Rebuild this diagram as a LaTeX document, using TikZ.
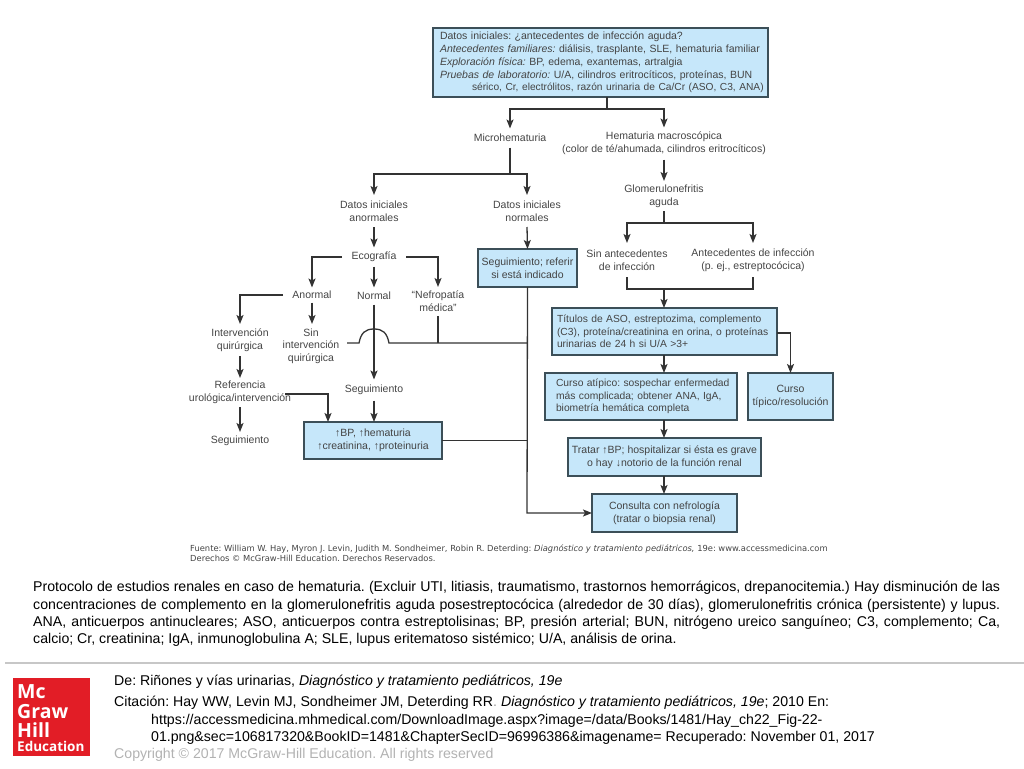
\documentclass[tikz,border=0pt]{standalone}
\usepackage{fontspec}
\setmainfont{Liberation Sans}
\newfontfamily\veriform{DejaVu Sans}
\newfontfamily\logofont{Open Sans}
\usetikzlibrary{arrows.meta,calc}
\AtBeginDocument{\frenchspacing}
\definecolor{boxfill}{HTML}{C6E7FA}
\definecolor{boxedge}{HTML}{3C4F58}
\definecolor{inkline}{HTML}{333333}
\definecolor{inktext}{HTML}{444444}
\definecolor{mhred}{HTML}{E21D26}
\tikzset{
  lbl/.style={inner sep=0pt,outer sep=0pt,align=center,text=inktext,font=\fontsize{10.5}{12.7}\selectfont},
  one/.style={lbl,minimum height=19pt},
  two/.style={lbl,minimum height=32pt},
  three/.style={lbl,minimum height=44pt},
  bx/.style={draw=boxedge,fill=boxfill,line width=1.3pt,inner ysep=0pt,inner xsep=0pt,outer sep=0pt,align=center,text=inktext,font=\fontsize{10.5}{12.7}\selectfont},
  ln/.style={draw=inkline,line width=1.3pt},
  arr/.style={ln,-{Stealth[length=9pt,width=7pt,inset=2pt]}},
  foot/.style={inner sep=0pt,anchor=west,text=black,font=\fontsize{14.15}{16}\selectfont},
  logo/.style={inner sep=0pt,anchor=west,text=white,font=\logofont\bfseries\fontsize{19.5}{22}\selectfont}
}
\begin{document}
\begin{tikzpicture}[x=1pt,y=-1pt]
\useasboundingbox (0,0) rectangle (1024,768);
% boxes
\node[bx,minimum height=69pt,text width=321pt,inner xsep=7pt,align=left] (top) at (600.5,62.5) {\mbox{Datos iniciales: ¿antecedentes de infección aguda?}\\
\mbox{\textit{Antecedentes familiares:} diálisis, trasplante, SLE, hematuria familiar}\\
\mbox{\textit{Exploración física:} BP, edema, exantemas, artralgia}\\
\mbox{\textit{Pruebas de laboratorio:} U/A, cilindros eritrocíticos, proteínas, BUN}\\
\mbox{\hspace*{32pt}\fontsize{10.2}{12.7}\selectfont sérico, Cr, electrólitos, razón urinaria de Ca/Cr (ASO, C3, ANA)}};
\node[bx,minimum width=99pt,minimum height=38pt] (seg) at (527.5,268) {Seguimiento; referir\\si está indicado};
\node[bx,minimum width=138pt,minimum height=37pt] (bp) at (373,440.5) {↑BP, ↑hematuria\\↑creatinina, ↑proteinuria};
\node[bx,minimum height=47pt,text width=215pt,inner xsep=5pt,align=left,font=\fontsize{10.3}{12.7}\selectfont] (tit) at (664.5,331.5) {\mbox{Títulos de ASO, estreptozima, complemento}\\\mbox{(C3), proteína/creatinina en orina, o proteínas}\\\mbox{urinarias de 24 h si U/A >3+}};
\node[bx,minimum height=47pt,text width=170pt,inner xsep=11pt,align=left,font=\fontsize{10.3}{12.7}\selectfont] (atip) at (641,396.5) {\mbox{Curso atípico: sospechar enfermedad}\\\mbox{más complicada; obtener ANA, IgA,}\\\mbox{biometría hemática completa}};
\node[bx,minimum width=85pt,minimum height=47pt] (tipico) at (790.5,396.5) {Curso\\típico/resolución};
\node[bx,minimum width=193pt,minimum height=38pt] (tratar) at (664.5,457) {Tratar ↑BP; hospitalizar si ésta es grave\\o hay ↓notorio de la función renal};
\node[bx,minimum width=145pt,minimum height=38pt] (cons) at (664.5,513) {Consulta con nefrología\\(tratar o biopsia renal)};
% labels
\node[one] (micro) at (510,138) {Microhematuria};
\node[two] (macro) at (664,143.5) {Hematuria macroscópica\\(color de té/ahumada, cilindros eritrocíticos)};
\node[two,minimum height=30pt] (glom) at (664,196) {Glomerulonefritis\\aguda};
\node[two] (anorm) at (374,211) {Datos iniciales\\anormales};
\node[two] (norm) at (527,211) {Datos iniciales\\normales};
\node[two,minimum height=34pt] (sina) at (627,260) {Sin antecedentes\\de infección};
\node[two,minimum height=34pt] (cona) at (753,260) {Antecedentes de infección\\(p. ej., estreptocócica)};
\node[one,minimum width=64pt] (eco) at (374,257) {Ecografía};
\node[one,minimum width=58pt,minimum height=15pt] (anormal) at (312,295) {Anormal};
\node[one,minimum height=17pt] (normal) at (374,296) {Normal};
\node[two,minimum height=29pt] (nefro) at (438,301.5) {“Nefropatía\\médica”};
\node[two,minimum height=32pt] (interv) at (240,340) {Intervención\\quirúrgica};
\node[three,minimum width=72pt] (sinint) at (311,346) {Sin\\intervención\\quirúrgica};
\node[two,minimum height=29pt] (ref) at (240,392.5) {Referencia\\urológica/intervención};
\node[one,minimum height=18pt] (segA) at (240,441) {Seguimiento};
\node[one,minimum height=21pt] (segB) at (374,390) {Seguimiento};
% junctions
\coordinate (jt) at (607,109);
\coordinate (jm) at (510,174);
\coordinate (jg) at (664,223);
\coordinate (jb) at (664,289);
\coordinate (jv) at (527,343);
\coordinate (jn) at (527,513);
\coordinate (humpL) at (359,343);
\coordinate (humpR) at (389,343);
\coordinate (jr) at (285,394);
\coordinate (jtc) at (777,333);
\coordinate (bpin) at (328,422);
% top tree
\draw[ln] (jt |- top.south) -- (jt);
\draw[arr] (jt) -| (micro.north);
\draw[arr] (jt) -| (macro.north);
\draw[arr] (macro.south) -- (glom.north);
\draw[ln] (glom.south) -- (jg);
\draw[arr] (jg) -| (sina.north);
\draw[arr] (jg) -| (cona.north);
\draw[ln] (sina.south) |- (jb) -| (cona.south);
\draw[arr] (jb) -- (jb |- tit.north);
\draw[arr] (jb |- tit.south) -- (jb |- atip.north);
\draw[arr] (jtc) -| (tipico.north);
\draw[arr] (jb |- atip.south) -- (jb |- tratar.north);
\draw[arr] (jb |- tratar.south) -- (jb |- cons.north);
% micro tree
\draw[ln] (micro.south) -- (jm);
\draw[arr] (jm) -| (anorm.north);
\draw[arr] (jm) -| (norm.north);
\draw[arr] (anorm.south) -- (eco.north);
\draw[arr] (norm.south) -- (seg.north);
\draw[arr] (eco.west) -| (anormal.north);
\draw[arr] (eco.south) -- (normal.north);
\draw[arr] (eco.east) -| (nefro.north);
\draw[arr] (anormal.west) -| (interv.north);
\draw[arr] (anormal.south) -- (anormal.south |- sinint.north);
\draw[arr] (interv.south) -- (ref.north);
\draw[arr] (ref.south) -- (segA.north);
\draw[arr] (normal.south) -- (segB.north);
\draw[arr] (segB.south) -- (segB.south |- bp.north);
\draw[arr] (jr) -| (bpin);
% trunk
\draw[ln] (sinint.east |- jv) -- (humpL) .. controls (361,333) and (365,329) .. (374,329) .. controls (383,329) and (387,333) .. (humpR) -- (jv);
\draw[ln] (nefro.south) -- (nefro.south |- jv);
\draw[ln] (bp.east) -- (bp.east -| jv);
\draw[arr] (seg.south) -- (jn) -- (cons.west);
% source
\node[inner sep=0pt,anchor=west,text=inktext,font=\veriform\fontsize{8.35}{10}\selectfont,align=left] (src) at (190,553) {Fuente: William W. Hay, Myron J. Levin, Judith M. Sondheimer, Robin R. Deterding: \textit{Diagnóstico y tratamiento pediátricos,} 19e: www.accessmedicina.com\\Derechos © McGraw-Hill Education. Derechos Reservados.};
% caption
\node[inner sep=0pt,anchor=north west,text width=967pt,align=justify,text=black,font=\fontsize{14.15}{17.4}\selectfont] (cap) at (33,581) {Protocolo de estudios renales en caso de hematuria. (Excluir UTI, litiasis, traumatismo, trastornos hemorrágicos, drepanocitemia.) Hay disminución de las\linebreak
concentraciones de complemento en la glomerulonefritis aguda posestreptocócica (alrededor de 30 días), glomerulonefritis crónica (persistente) y lupus.\linebreak
ANA, anticuerpos antinucleares; ASO, anticuerpos contra estreptolisinas; BP, presión arterial; BUN, nitrógeno ureico sanguíneo; C3, complemento; Ca,\linebreak
calcio; Cr, creatinina; IgA, inmunoglobulina A; SLE, lupus eritematoso sistémico; U/A, análisis de orina.};
% footer
\fill[color=black!22] (5,662) rectangle (1024,664);
\fill[mhred] (13,678) rectangle (90,756);
\node[logo] (lm) at (17,692) {Mc};
\node[logo] (lg) at (17,711.5) {Graw};
\node[logo] (lh) at (17,730) {Hill};
\node[logo,font=\logofont\bfseries\fontsize{13.5}{14}\selectfont] (le) at (17,746) {Education};
\node[foot] (f1) at (114,682) {De: Riñones y vías urinarias, \textit{Diagnóstico y tratamiento pediátricos, 19e}};
\node[foot] (f2) at (114,703) {Citación: Hay WW, Levin MJ, Sondheimer JM, Deterding RR\textcolor{black!40}{.} \textit{Diagnóstico y tratamiento pediátricos, 19e}; 2010 En:};
\node[foot] (f3) at (151,721) {https://accessmedicina.mhmedical.com/DownloadImage.aspx?image=/data/Books/1481/Hay\_ch22\_Fig-22-};
\node[foot] (f4) at (151,738) {01.png\&sec=106817320\&BookID=1481\&ChapterSecID=96996386\&imagename= Recuperado: November 01, 2017};
\node[foot,text=black!30] (f5) at (114,755) {Copyright © 2017 McGraw-Hill Education. All rights reserved};
\end{tikzpicture}
\end{document}
